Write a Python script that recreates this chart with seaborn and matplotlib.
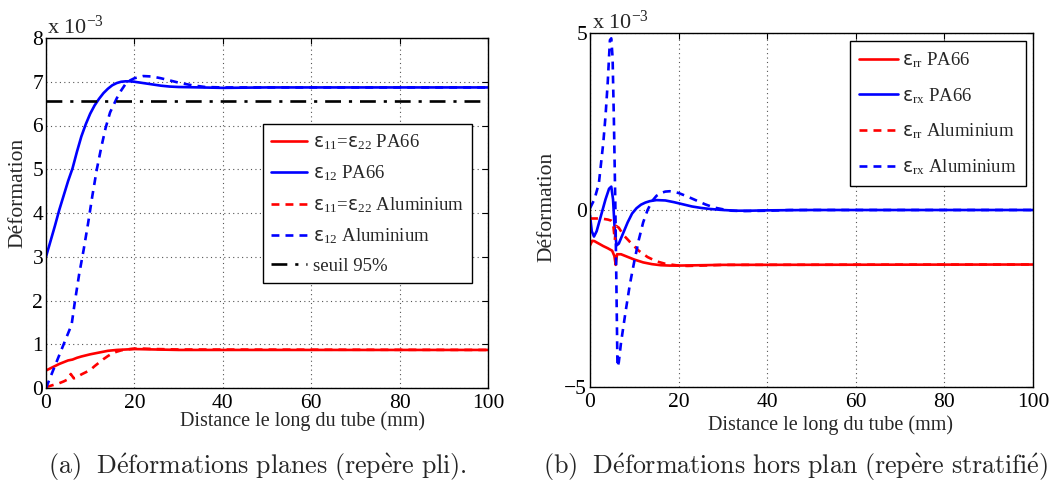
import numpy as np
import pandas as pd
import matplotlib
matplotlib.use("Agg")
import matplotlib.pyplot as plt
import seaborn as sns

# ---------------- data (strain values in units of 1e-3) ----------------
# (a) in-plane strains, ply frame
x_pa66_e12 = [0, 1, 2, 3, 4, 5, 6, 7, 8, 9, 10, 11, 12, 13, 14, 15, 16, 17, 18, 19, 20,
              22, 24, 26, 28, 30, 35, 40, 50, 100]
e12_pa66 = [3.0, 3.35, 3.7, 4.07, 4.4, 4.73, 5.02, 5.4, 5.75, 6.03, 6.27, 6.46, 6.61, 6.74,
            6.84, 6.92, 6.97, 7.0, 7.01, 7.01, 7.0, 6.97, 6.94, 6.91, 6.89, 6.88, 6.87,
            6.86, 6.87, 6.87]

x_alu_e12 = [0, 1, 2, 3, 4, 5, 5.8, 6.5, 7.5, 8.5, 9.5, 10.5, 11.5, 12.5, 13.5, 14.5, 16,
             17, 18, 19, 20, 22, 24, 26, 28, 30, 33, 36, 40, 100]
e12_alu = [0.0, 0.25, 0.5, 0.75, 1.0, 1.25, 1.45, 1.95, 2.6, 3.15, 3.75, 4.4, 5.0, 5.5,
           5.95, 6.3, 6.62, 6.8, 6.95, 7.03, 7.08, 7.13, 7.12, 7.08, 7.03, 6.98, 6.92,
           6.88, 6.87, 6.87]

x_pa66_e11 = [0, 1, 2, 3, 4, 5, 6, 7, 8, 10, 12, 14, 16, 18, 20, 25, 30, 100]
e11_pa66 = [0.4, 0.45, 0.5, 0.55, 0.59, 0.63, 0.65, 0.69, 0.72, 0.77, 0.81, 0.85, 0.87,
            0.88, 0.89, 0.88, 0.87, 0.87]

x_alu_e11 = [0, 1, 2, 3, 4, 5, 5.6, 6.3, 7, 8, 9, 10, 11, 12, 13, 14, 15, 16, 17, 18, 20,
             22, 25, 30, 100]
e11_alu = [0.02, 0.05, 0.08, 0.11, 0.15, 0.2, 0.32, 0.22, 0.25, 0.31, 0.36, 0.41, 0.5,
           0.58, 0.66, 0.73, 0.79, 0.83, 0.86, 0.88, 0.9, 0.9, 0.89, 0.88, 0.87]

seuil_95 = 6.55
x_range = [0, 100]

# (b) out-of-plane strains, laminate frame
x_pa66_rx = [0, 0.4, 0.9, 1.5, 2.5, 3.5, 4.3, 4.8, 5.2, 5.6, 6.0, 6.5, 7.5, 8.5, 9.5, 10.5,
             11.5, 12.5, 13.5, 15, 17, 19, 21, 23, 25, 27, 30, 33, 36, 40, 50, 100]
erx_pa66 = [-0.15, -0.6, -0.75, -0.6, -0.15, 0.3, 0.6, 0.66, 0.3, -0.6, -1.0, -0.95, -0.65,
            -0.35, -0.1, 0.05, 0.15, 0.21, 0.25, 0.28, 0.27, 0.22, 0.16, 0.1, 0.06, 0.03,
            0.0, -0.02, -0.02, -0.01, 0.0, 0.0]

x_alu_rx = [0, 1, 2, 3, 3.5, 4, 4.5, 4.8, 5.1, 5.4, 5.7, 6.0, 6.2, 6.5, 7, 8, 9, 10, 11, 12,
            13, 14, 15, 16, 17, 18, 19, 20, 22, 24, 26, 28, 30, 32, 35, 40, 45, 100]
erx_alu = [0.05, 0.3, 0.75, 1.9, 2.65, 3.6, 4.8, 4.85, 4.3, 2.5, 0.3, -2.5, -4.43, -4.3,
           -3.75, -2.9, -2.1, -1.45, -0.85, -0.35, 0.0, 0.25, 0.4, 0.48, 0.52, 0.53, 0.51,
           0.48, 0.38, 0.27, 0.16, 0.07, 0.02, -0.02, -0.03, -0.02, 0.0, 0.0]

x_pa66_rr = [0, 0.5, 1, 2, 3, 4, 5, 5.5, 5.8, 6.1, 7, 8, 10, 12, 14, 16, 18, 20, 25, 30, 100]
err_pa66 = [-1.0, -0.87, -0.88, -0.95, -1.02, -1.08, -1.15, -1.3, -1.55, -1.25, -1.25, -1.3,
            -1.4, -1.48, -1.53, -1.56, -1.57, -1.57, -1.56, -1.55, -1.54]

x_alu_rr = [0, 1, 2, 3, 4, 4.8, 5.2, 5.6, 5.9, 6.5, 7.5, 9, 11, 13, 15, 17, 20, 22, 25, 30,
            100]
err_alu = [-0.24, -0.24, -0.24, -0.25, -0.27, -0.3, -0.35, -0.85, -0.45, -0.5, -0.7, -0.9,
           -1.15, -1.33, -1.45, -1.52, -1.57, -1.58, -1.57, -1.55, -1.54]

EPS = r"\mathsf{\varepsilon}"
labels_a = [rf"${EPS}_{{\mathrm{{11}}}}$=${EPS}_{{\mathrm{{22}}}}$ PA66",
            rf"${EPS}_{{\mathrm{{12}}}}$ PA66",
            rf"${EPS}_{{\mathrm{{11}}}}$=${EPS}_{{\mathrm{{22}}}}$ Aluminium",
            rf"${EPS}_{{\mathrm{{12}}}}$ Aluminium",
            "seuil 95%"]
labels_b = [rf"${EPS}_{{\mathrm{{rr}}}}$ PA66",
            rf"${EPS}_{{\mathrm{{rx}}}}$ PA66",
            rf"${EPS}_{{\mathrm{{rr}}}}$ Aluminium",
            rf"${EPS}_{{\mathrm{{rx}}}}$ Aluminium"]

xticks = [0, 20, 40, 60, 80, 100]
yticks_a = [0, 1, 2, 3, 4, 5, 6, 7, 8]
yticks_b = [-5, 0, 5]
xlabel = "Distance le long du tube (mm)"
ylabel = "Déformation"
caption_a = r"$\mathrm{(a)\ \ D\acute{e}formations\ planes\ (rep\grave{e}re\ pli).}$"
caption_b = r"$\mathrm{(b)\ \ D\acute{e}formations\ hors\ plan\ (rep\grave{e}re\ stratifi\acute{e})}$"

# ---------------- style ----------------
sns.set_style("white")
plt.rcParams["font.family"] = ["Liberation Serif", "DejaVu Serif"]
plt.rcParams["mathtext.fontset"] = "custom"
plt.rcParams["mathtext.rm"] = "Liberation Serif"
plt.rcParams["mathtext.it"] = "Liberation Serif:italic"
plt.rcParams["mathtext.sf"] = "DejaVu Sans"
plt.rcParams["axes.edgecolor"] = "black"
plt.rcParams["axes.linewidth"] = 1.0

RED = "#ff0000"
BLUE = "#0000ff"
LW = 1.9
DASH = (3.0, 2.3)
FS = 14.5
LEG_FS = 13.5

fig = plt.figure(figsize=(10.6, 4.82), dpi=100)
ax1 = fig.add_axes([46 / 1060, 1 - 388 / 482, (488 - 46) / 1060, (388 - 38) / 482])
ax2 = fig.add_axes([590 / 1060, 1 - 387 / 482, (1033 - 590) / 1060, (387 - 33) / 482])


def draw(ax, x, y, color, dashed, label):
    df = pd.DataFrame({"x": x, "y": y})
    sns.lineplot(data=df, x="x", y="y", ax=ax, color=color, lw=LW, estimator=None,
                 sort=False, label=label)
    line = ax.get_lines()[-1]
    if dashed:
        line.set_dashes(DASH)


# (a)
draw(ax1, x_pa66_e11, e11_pa66, RED, False, labels_a[0])
draw(ax1, x_pa66_e12, e12_pa66, BLUE, False, labels_a[1])
draw(ax1, x_alu_e11, e11_alu, RED, True, labels_a[2])
draw(ax1, x_alu_e12, e12_alu, BLUE, True, labels_a[3])
df_s = pd.DataFrame({"x": x_range, "y": [seuil_95, seuil_95]})
sns.lineplot(data=df_s, x="x", y="y", ax=ax1, color="black", lw=LW, label=labels_a[4])
ax1.get_lines()[-1].set_dashes((6, 3, 1.2, 3))

# (b)
draw(ax2, x_pa66_rr, err_pa66, RED, False, labels_b[0])
draw(ax2, x_pa66_rx, erx_pa66, BLUE, False, labels_b[1])
draw(ax2, x_alu_rr, err_alu, RED, True, labels_b[2])
draw(ax2, x_alu_rx, erx_alu, BLUE, True, labels_b[3])

for ax, yt, ylim in [(ax1, yticks_a, (0, 8)), (ax2, yticks_b, (-5, 5))]:
    ax.set_xlim(0, 100)
    ax.set_ylim(*ylim)
    ax.set_xticks(xticks)
    ax.set_yticks(yt)
    ax.set_yticklabels([str(v).replace("-", "\u2212") for v in yt])
    ax.tick_params(direction="in", length=4, width=0.8, top=True, right=True,
                   labelsize=15.5, colors="black")
    ax.tick_params(axis="x", pad=4)
    ax.tick_params(axis="y", pad=2)
    ax.grid(True, linestyle=(0, (1, 3)), color="#555555", lw=0.8)
    ax.set_xlabel("")
    ax.set_ylabel("")
    for s in ax.spines.values():
        s.set_visible(True)
        s.set_color("black")

# labels
fig.text(303 / 1060, 1 - 421 / 482, xlabel, ha="center", va="center", fontsize=FS)
fig.text(830 / 1060, 1 - 425 / 482, xlabel, ha="center", va="center", fontsize=FS)
fig.text(18 / 1060, 1 - 193 / 482, ylabel, ha="center", va="center", rotation=90, fontsize=15.5)
fig.text(547 / 1060, 1 - 207 / 482, ylabel, ha="center", va="center", rotation=90, fontsize=15.5)

# exponent multipliers
fig.text(47 / 1060, 1 - 27 / 482, r"x 10$^{\mathrm{-3}}$", ha="left", va="center", fontsize=16)
fig.text(592 / 1060, 1 - 22 / 482, r"x 10$^{\mathrm{-3}}$", ha="left", va="center", fontsize=16)

# legends
leg1 = ax1.legend(loc="upper left", bbox_to_anchor=(263 / 1060, 1 - 124 / 482),
                  bbox_transform=fig.transFigure, fontsize=LEG_FS, frameon=True,
                  fancybox=False, edgecolor="black", framealpha=1, handlelength=1.9,
                  handletextpad=0.3, labelspacing=0.62, borderpad=0.45, borderaxespad=0)
leg1.get_frame().set_linewidth(1.0)
leg2 = ax2.legend(loc="upper right", bbox_to_anchor=(1026 / 1060, 1 - 41 / 482),
                  bbox_transform=fig.transFigure, fontsize=LEG_FS, frameon=True,
                  fancybox=False, edgecolor="black", framealpha=1, handlelength=2.1,
                  handletextpad=0.2, labelspacing=0.85, borderpad=0.5, borderaxespad=0)
leg2.get_frame().set_linewidth(1.0)

# captions
fig.text(257 / 1060, 1 - 467 / 482, caption_a, ha="center", va="center", fontsize=18.7,
         math_fontfamily="cm")
fig.text(796 / 1060, 1 - 467 / 482, caption_b, ha="center", va="center", fontsize=18.7,
         math_fontfamily="cm")

fig.savefig("out.png", dpi=100)
